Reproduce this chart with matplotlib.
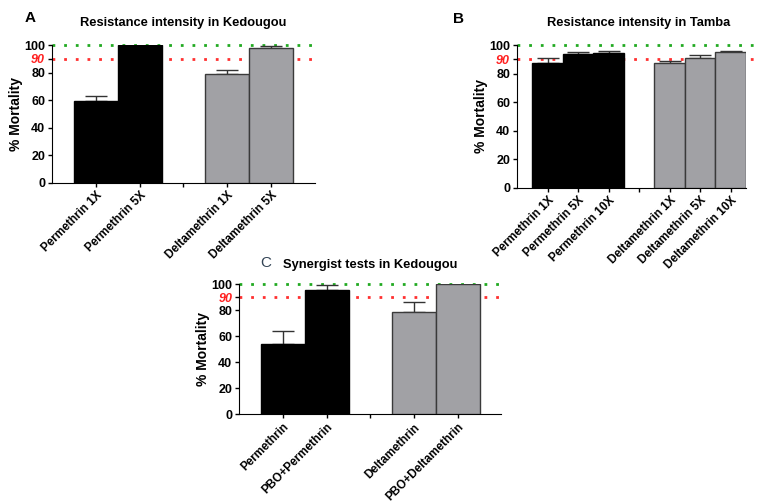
import numpy as np
import matplotlib
matplotlib.use('Agg')
import matplotlib.pyplot as plt

plt.rcParams['font.family'] = ['Liberation Sans', 'DejaVu Sans']
plt.rcParams['font.weight'] = 'bold'

# data
a_labels = ['Permethrin 1X', 'Permethrin 5X', '', 'Deltamethrin 1X', 'Deltamethrin 5X']
a_values = [59.3, 100, None, 78.7, 98.2]
a_errors = [3.5, 0, None, 3.5, 0.8]

b_labels = ['Permethrin 1X', 'Permethrin 5X', 'Permethrin 10X', '',
            'Deltamethrin 1X', 'Deltamethrin 5X', 'Deltamethrin 10X']
b_values = [87.2, 93.5, 94.6, None, 87.2, 90.9, 94.9]
b_errors = [4.0, 1.3, 1.3, None, 1.8, 2.0, 1.0]

c_labels = ['Permethrin', 'PBO+Permethrin', '', 'Deltamethrin', 'PBO+Deltamethrin']
c_values = [54.0, 95.6, None, 79.0, 100]
c_errors = [10.0, 4.0, None, 7.5, 0]

insecticide = ['per', 'per', None, 'del', 'del']
insecticide_b = ['per', 'per', 'per', None, 'del', 'del', 'del']

BLACK = '#000000'
GREY = '#a1a1a5'


def panel(ax, labels, values, errors, kind, title, xmax, line_end, title_x=0.5):
    x = np.arange(len(labels))
    for xi, v, e, k in zip(x, values, errors, kind):
        if v is None:
            continue
        col = BLACK if k == 'per' else GREY
        edge = '#000000' if k == 'per' else '#3a3a3a'
        ax.bar(xi, v, width=1.0, color=col, edgecolor=edge, linewidth=1.0, zorder=3)
        if e:
            ax.errorbar(xi, v, yerr=[[0], [e]], color='#333333', capsize=8,
                        elinewidth=1.0, capthick=1.0, zorder=2)
    ax.plot([x[0] - 1.0, line_end], [100, 100], linestyle=(0, (1, 3.2)),
            color='#22aa22', lw=2.0, zorder=1, clip_on=False)
    ax.plot([x[0] - 1.0, line_end], [90, 90], linestyle=(0, (1, 3.2)),
            color='#ff3030', lw=2.0, zorder=1, clip_on=False)
    ax.set_ylim(0, 100)
    ax.set_xlim(-1.0, xmax)
    ax.set_yticks([0, 20, 40, 60, 80, 90, 100])
    ax.set_yticklabels(['0', '20', '40', '60', '80', '90', '100'])
    for t in ax.get_yticklabels():
        t.set_fontsize(9)
        t.set_fontweight('bold')
        if t.get_text() == '90':
            t.set_color('#ff2020')
            t.set_fontstyle('italic')
    ax.set_xticks(x)
    ax.set_xticklabels(labels, rotation=45, ha='right', rotation_mode='anchor',
                       fontsize=8.5, fontweight='bold')
    ax.tick_params(axis='both', length=3, width=1, pad=2)
    ax.spines['top'].set_visible(False)
    ax.spines['right'].set_visible(False)
    ax.set_ylabel('% Mortality', fontsize=10, fontweight='bold', labelpad=1)
    ax.set_title(title, fontsize=9.3, fontweight='bold', pad=14, x=title_x)


fig = plt.figure(figsize=(7.71, 5.04), dpi=100)

ax_a = fig.add_axes([0.0674, 0.6375, 0.341, 0.273])
panel(ax_a, a_labels, a_values, a_errors, insecticide,
      'Resistance intensity in Kedougou', 5.0, 5.05)

ax_b = fig.add_axes([0.6706, 0.6276, 0.297, 0.283])
panel(ax_b, b_labels, b_values, b_errors, insecticide_b,
      'Resistance intensity in Tamba', 6.5, 6.8, title_x=0.53)

ax_c = fig.add_axes([0.3104, 0.178, 0.340, 0.258])
panel(ax_c, c_labels, c_values, c_errors, insecticide,
      'Synergist tests in Kedougou', 5.0, 5.0)
ax_c.title.set_position((0.5, 1.0))
ax_c.set_title('Synergist tests in Kedougou', fontsize=9.3, fontweight='bold', pad=12)

fig.text(0.032, 0.965, 'A', fontsize=11, fontweight='bold', va='center')
fig.text(0.588, 0.963, 'B', fontsize=11, fontweight='bold', va='center')
fig.text(0.337, 0.478, 'C', fontsize=11, fontweight='normal', color='#334455', va='center')

fig.savefig('out.png', dpi=100)
